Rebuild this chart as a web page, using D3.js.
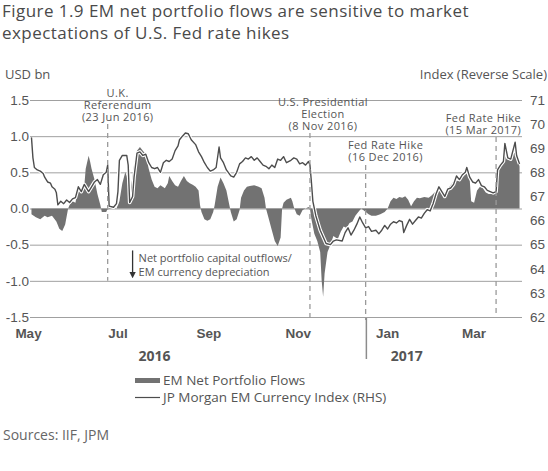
<!DOCTYPE html>
<html>
<head>
<meta charset="utf-8">
<script src="https://cdn.jsdelivr.net/npm/d3@7"></script>
<style>
  body { margin: 0; background: #fff; }
  svg { font-family: "Open Sans", sans-serif; }
</style>
</head>
<body>
<script>
// EM net portfolio flows vs JP Morgan EM currency index

// EM net portfolio flows, USD bn (left axis)
var flowDates = ["2016-05-02","2016-05-05","2016-05-08","2016-05-11","2016-05-13","2016-05-16","2016-05-19","2016-05-21","2016-05-23","2016-05-25",
  "2016-05-27","2016-05-28","2016-05-30","2016-06-01","2016-06-03","2016-06-05","2016-06-07","2016-06-08","2016-06-10","2016-06-11",
  "2016-06-12","2016-06-14","2016-06-16","2016-06-18","2016-06-19","2016-06-22","2016-06-23","2016-06-26","2016-06-29","2016-07-01",
  "2016-07-03","2016-07-05","2016-07-06","2016-07-08","2016-07-09","2016-07-11","2016-07-13","2016-07-15","2016-07-17","2016-07-19",
  "2016-07-21","2016-07-23","2016-07-25","2016-07-27","2016-07-29","2016-08-01","2016-08-03","2016-08-04","2016-08-06","2016-08-08",
  "2016-08-10","2016-08-12","2016-08-14","2016-08-16","2016-08-18","2016-08-20","2016-08-22","2016-08-24","2016-08-25","2016-08-26",
  "2016-08-28","2016-08-30","2016-09-01","2016-09-03","2016-09-04","2016-09-06","2016-09-08","2016-09-10","2016-09-12","2016-09-14",
  "2016-09-15","2016-09-17","2016-09-19","2016-09-21","2016-09-22","2016-09-24","2016-09-26","2016-09-28","2016-10-01","2016-10-04",
  "2016-10-06","2016-10-08","2016-10-09","2016-10-11","2016-10-13","2016-10-15","2016-10-17","2016-10-19","2016-10-20","2016-10-21",
  "2016-10-23","2016-10-26","2016-10-27","2016-10-28","2016-10-30","2016-11-01","2016-11-03","2016-11-05","2016-11-07","2016-11-08",
  "2016-11-09","2016-11-11","2016-11-13","2016-11-15","2016-11-16","2016-11-17","2016-11-18","2016-11-20","2016-11-22","2016-11-24",
  "2016-11-27","2016-11-29","2016-12-01","2016-12-03","2016-12-05","2016-12-07","2016-12-09","2016-12-11","2016-12-13","2016-12-15",
  "2016-12-18","2016-12-20","2016-12-23","2016-12-26","2016-12-29","2016-12-31","2017-01-02","2017-01-04","2017-01-06","2017-01-08",
  "2017-01-10","2017-01-12","2017-01-14","2017-01-16","2017-01-18","2017-01-20","2017-01-22","2017-01-25","2017-01-28","2017-01-30",
  "2017-02-01","2017-02-03","2017-02-05","2017-02-07","2017-02-09","2017-02-11","2017-02-13","2017-02-15","2017-02-17","2017-02-19",
  "2017-02-21","2017-02-23","2017-02-25","2017-02-26","2017-02-28","2017-03-02","2017-03-04","2017-03-06","2017-03-08","2017-03-10",
  "2017-03-12","2017-03-14","2017-03-15","2017-03-16","2017-03-18","2017-03-20","2017-03-21","2017-03-23","2017-03-25","2017-03-26",
  "2017-03-28","2017-03-29","2017-03-31"];
var flowValues = [-0.08,-0.12,-0.15,-0.10,-0.12,-0.10,-0.18,-0.28,-0.31,-0.22,
  0.0,0.05,0.10,0.08,0.30,0.22,0.30,0.55,0.73,0.65,
  0.55,0.40,0.20,0.05,-0.05,-0.05,0.0,0.02,0.0,0.10,
  0.35,0.50,0.45,0.15,0.30,0.60,0.80,0.85,0.80,0.75,
  0.55,0.40,0.30,0.28,0.32,0.28,0.35,0.45,0.38,0.32,
  0.30,0.38,0.45,0.38,0.35,0.33,0.30,0.25,0.05,-0.05,
  -0.15,-0.17,-0.15,-0.05,0.05,0.30,0.43,0.35,0.25,0.05,
  -0.05,-0.18,-0.15,-0.02,0.15,0.25,0.30,0.31,0.32,0.30,
  0.28,0.15,0.0,-0.15,-0.30,-0.45,-0.52,-0.40,0.0,0.08,
  0.12,0.15,0.10,0.02,-0.08,-0.10,-0.02,0.0,0.02,0.0,
  -0.15,-0.35,-0.45,-0.60,-1.00,-1.22,-0.90,-0.60,-0.50,-0.38,
  -0.42,-0.32,-0.25,-0.27,-0.20,-0.18,-0.10,-0.05,0.0,-0.03,
  -0.08,-0.10,-0.10,-0.08,-0.05,0.0,0.10,0.15,0.13,0.16,
  0.15,0.17,0.12,0.03,0.10,0.15,0.14,0.16,0.15,0.18,
  0.22,0.25,0.30,0.20,0.25,0.30,0.35,0.40,0.38,0.42,
  0.45,0.55,0.40,0.10,0.08,0.25,0.30,0.28,0.22,0.20,
  0.20,0.20,0.22,0.55,0.62,0.65,0.88,0.72,0.68,0.70,
  0.90,0.75,0.58];

// JP Morgan EM currency index (right axis)
var fxDates = ["2016-05-02","2016-05-03","2016-05-04","2016-05-06","2016-05-08","2016-05-10","2016-05-11","2016-05-13","2016-05-15","2016-05-16",
  "2016-05-18","2016-05-19","2016-05-20","2016-05-22","2016-05-24","2016-05-26","2016-05-28","2016-05-30","2016-06-01","2016-06-03",
  "2016-06-05","2016-06-07","2016-06-10","2016-06-12","2016-06-14","2016-06-16","2016-06-18","2016-06-20","2016-06-22","2016-06-23",
  "2016-06-24","2016-06-27","2016-06-29","2016-06-30","2016-07-01","2016-07-03","2016-07-06","2016-07-07","2016-07-08","2016-07-10",
  "2016-07-11","2016-07-13","2016-07-15","2016-07-17","2016-07-19","2016-07-21","2016-07-23","2016-07-25","2016-07-27","2016-07-29",
  "2016-07-31","2016-08-02","2016-08-04","2016-08-06","2016-08-08","2016-08-10","2016-08-11","2016-08-13","2016-08-15","2016-08-17",
  "2016-08-19","2016-08-22","2016-08-24","2016-08-26","2016-08-28","2016-08-30","2016-09-01","2016-09-03","2016-09-05","2016-09-07",
  "2016-09-08","2016-09-10","2016-09-12","2016-09-15","2016-09-17","2016-09-19","2016-09-21","2016-09-23","2016-09-25","2016-09-27",
  "2016-09-29","2016-10-01","2016-10-03","2016-10-05","2016-10-07","2016-10-09","2016-10-11","2016-10-13","2016-10-15","2016-10-17",
  "2016-10-19","2016-10-21","2016-10-23","2016-10-26","2016-10-28","2016-10-30","2016-11-01","2016-11-03","2016-11-05","2016-11-07",
  "2016-11-08","2016-11-09","2016-11-10","2016-11-12","2016-11-15","2016-11-19","2016-11-22","2016-11-24","2016-11-26","2016-11-30",
  "2016-12-02","2016-12-04","2016-12-06","2016-12-08","2016-12-10","2016-12-12","2016-12-14","2016-12-16","2016-12-18","2016-12-20",
  "2016-12-23","2016-12-25","2016-12-27","2016-12-29","2016-12-31","2017-01-02","2017-01-04","2017-01-06","2017-01-08","2017-01-10",
  "2017-01-11","2017-01-13","2017-01-15","2017-01-17","2017-01-19","2017-01-21","2017-01-23","2017-01-25","2017-01-27","2017-01-29",
  "2017-01-31","2017-02-02","2017-02-04","2017-02-06","2017-02-08","2017-02-10","2017-02-12","2017-02-14","2017-02-16","2017-02-18",
  "2017-02-20","2017-02-22","2017-02-23","2017-02-25","2017-02-27","2017-03-01","2017-03-03","2017-03-05","2017-03-07","2017-03-09",
  "2017-03-11","2017-03-13","2017-03-15","2017-03-16","2017-03-18","2017-03-20","2017-03-21","2017-03-23","2017-03-25","2017-03-28",
  "2017-03-29","2017-03-31"];
var fxValues = [69.45,68.6,68.2,68.1,68.05,67.95,67.8,67.6,67.55,67.4,
  67.3,67.15,66.65,66.8,66.7,66.85,66.75,66.9,66.95,67.4,
  67.2,67.5,67.2,67.4,67.6,67.7,67.5,67.9,68.0,68.3,
  66.6,66.55,66.7,67.2,68.5,68.7,68.7,68.3,66.75,67.0,
  67.8,68.8,68.85,68.7,68.75,68.4,68.2,68.15,68.2,68.0,
  68.4,68.5,68.45,68.55,68.9,69.1,69.35,69.5,69.63,69.6,
  69.35,69.15,68.85,68.65,68.4,68.2,68.05,68.1,68.2,69.05,
  68.6,68.4,68.1,67.85,67.8,68.0,68.35,68.45,68.6,68.55,
  68.65,68.5,68.6,68.45,68.3,68.25,68.15,68.3,68.2,68.55,
  68.5,68.65,68.4,68.5,68.6,68.55,68.35,68.4,68.3,68.45,
  68.3,67.6,66.8,66.2,65.6,65.05,65.0,65.15,65.2,65.15,
  65.5,65.7,65.4,65.6,65.85,66.15,65.9,65.7,65.75,65.55,
  65.6,65.45,65.6,65.8,65.65,65.85,65.95,65.9,66.0,65.95,
  65.5,65.8,66.05,65.85,66.0,66.15,66.1,66.3,66.45,66.4,
  66.7,67.1,67.4,67.2,67.0,67.3,67.35,67.5,67.85,67.7,
  67.9,68.0,68.2,67.8,67.6,67.55,67.7,67.45,67.4,67.25,
  67.2,67.15,67.2,68.1,68.3,68.45,69.2,68.6,68.55,69.25,
  68.7,68.35];

// axis ticks
var leftTicks = [-1.5, -1.0, -0.5, 0.0, 0.5, 1.0, 1.5];
var rightTicks = [62, 63, 64, 65, 66, 67, 68, 69, 70, 71];
var monthTicks = ["2016-05-01","2016-07-01","2016-09-01","2016-11-01","2017-01-01","2017-03-01"];
var monthLabels = ["May","Jul","Sep","Nov","Jan","Mar"];
var yearLabels = ["2016","2017"];
var yearDates = ["2016-07-25","2017-01-13"];

// events
var eventDates = ["2016-06-23","2016-11-08","2016-12-16","2017-03-15"];
var eventLabels = [["U.K.","Referendum","(23 Jun 2016)"],
  ["U.S. Presidential","Election","(8 Nov 2016)"],
  ["Fed Rate Hike","(16 Dec 2016)"],
  ["Fed Rate Hike","(15 Mar 2017)"]];

var svgWidth = 548;
var svgHeight = 471;
var parseDate = d3.timeParse("%Y-%m-%d");
var textColor = "#555";

var svg = d3.select("body")
  .append("svg")
  .attr("width", svgWidth)
  .attr("height", svgHeight);

// scales
var xScale = d3.scaleTime()
  .domain([parseDate("2016-05-01"), parseDate("2017-04-01")])
  .range([30, 521]);
var yLeft = d3.scaleLinear().domain([-1.5, 1.5]).range([317, 100]);
var yRight = d3.scaleLinear().domain([62, 71]).range([317, 100]);

var flows = flowDates.map((d, i) => ({ date: parseDate(d), value: flowValues[i] }));
var fx = fxDates.map((d, i) => ({ date: parseDate(d), value: fxValues[i] }));

// title, two lines
svg.append("text").attr("x", 2).attr("y", 17)
  .attr("fill", "#4a4a4a")
  .style("font-size", "17px").style("letter-spacing", "0.45px")
  .text("Figure 1.9 EM net portfolio flows are sensitive to market");
svg.append("text").attr("x", 2).attr("y", 39)
  .attr("fill", "#4a4a4a")
  .style("font-size", "17px").style("letter-spacing", "0.45px")
  .text("expectations of U.S. Fed rate hikes");

svg.append("text").attr("x", 5).attr("y", 79)
  .attr("fill", textColor).style("font-size", "13px").text("USD bn");
svg.append("text").attr("x", 547).attr("y", 79).attr("text-anchor", "end")
  .attr("fill", textColor).style("font-size", "13px").text("Index (Reverse Scale)");

// left axis with gridlines
var leftAxis = d3.axisLeft(yLeft)
  .tickValues(leftTicks)
  .tickSize(-492)
  .tickPadding(1)
  .tickFormat(d => d.toFixed(1));
var gLeft = svg.append("g")
  .attr("transform", "translate(30,0)")
  .call(leftAxis);
gLeft.select(".domain").remove();
gLeft.selectAll("line").attr("stroke", "#a0a0a0");
gLeft.selectAll("text").attr("fill", textColor).style("font-size", "13.5px");

// right axis
var rightAxis = d3.axisRight(yRight)
  .tickValues(rightTicks)
  .tickSize(0)
  .tickPadding(8);
var gRight = svg.append("g")
  .attr("transform", "translate(522,0)")
  .call(rightAxis);
gRight.select(".domain").remove();
gRight.selectAll("text").attr("fill", textColor).style("font-size", "13.5px");

// area for flows
var area = d3.area()
  .x(d => xScale(d.date))
  .y0(yLeft(0))
  .y1(d => yLeft(d.value));
svg.append("path")
  .datum(flows)
  .attr("d", area)
  .attr("fill", "#727272");

// currency index line with white halo
var line = d3.line()
  .x(d => xScale(d.date))
  .y(d => yRight(d.value));
svg.append("path")
  .datum(fx)
  .attr("d", line)
  .attr("fill", "none")
  .attr("stroke", "#fff")
  .attr("stroke-width", 3.6)
  .attr("stroke-linejoin", "round");
svg.append("path")
  .datum(fx)
  .attr("d", line)
  .attr("fill", "none")
  .attr("stroke", "#4d4d4d")
  .attr("stroke-width", 1.4)
  .attr("stroke-linejoin", "round");

// event lines and labels
var eventLayout = [
  { top: 124, bottom: yLeft(-1.0), dx: 10, anchor: "middle", y: 93 },
  { top: 133, bottom: 320, dx: 13, anchor: "middle", y: 102 },
  { top: 165, bottom: 320, dx: 20, anchor: "middle", y: 145 },
  { top: 137, bottom: 316, dx: 25, anchor: "end", y: 118 }
];
eventDates.forEach(function (d, i) {
  var ex = xScale(parseDate(d));
  var lay = eventLayout[i];
  svg.append("line")
    .attr("x1", ex).attr("x2", ex)
    .attr("y1", lay.top).attr("y2", lay.bottom)
    .attr("stroke", "#9a9a9a")
    .attr("stroke-width", 1.3)
    .attr("stroke-dasharray", "5,4");
  var t = svg.append("text")
    .attr("text-anchor", lay.anchor)
    .attr("fill", textColor)
    .style("font-size", "11px")
    .style("letter-spacing", "0.4px");
  eventLabels[i].forEach(function (s, j) {
    t.append("tspan")
      .attr("x", ex + lay.dx)
      .attr("y", lay.y + 4 + j * 12)
      .text(s);
  });
});

// outflow note with arrow
svg.append("defs").append("marker")
  .attr("id", "arrow")
  .attr("viewBox", "0 0 10 10")
  .attr("refX", 5).attr("refY", 5)
  .attr("markerWidth", 5).attr("markerHeight", 5)
  .attr("orient", "auto")
  .append("path").attr("d", "M0,0L10,5L0,10z").attr("fill", "#333");
var noteX = xScale(parseDate("2016-07-10"));
svg.append("line")
  .attr("x1", noteX).attr("x2", noteX)
  .attr("y1", yLeft(-0.58)).attr("y2", yLeft(-0.92))
  .attr("stroke", "#333").attr("stroke-width", 1.3)
  .attr("marker-end", "url(#arrow)");
var note = svg.append("text").attr("fill", textColor).style("font-size", "11px");
note.append("tspan").attr("x", noteX + 6).attr("y", 262).text("Net portfolio capital outflows/");
note.append("tspan").attr("x", noteX + 6).attr("y", 276).text("EM currency depreciation");

// month axis
var bottomAxis = d3.axisBottom(xScale)
  .tickValues(monthTicks.map(parseDate))
  .tickSize(0)
  .tickPadding(0)
  .tickFormat((d, i) => monthLabels[i]);
var gBottom = svg.append("g")
  .attr("transform", "translate(-2,328)")
  .call(bottomAxis);
gBottom.select(".domain").remove();
gBottom.selectAll("text")
  .attr("fill", textColor)
  .style("font-size", "13.5px")
  .style("font-weight", "bold");

// year labels and separator
var decX = xScale(parseDate("2016-12-01"));
var janX = xScale(parseDate("2017-01-01"));
var sepX = (decX + janX) / 2;
svg.append("line")
  .attr("x1", sepX).attr("x2", sepX)
  .attr("y1", 318).attr("y2", 359)
  .attr("stroke", "#8c8c8c").attr("stroke-width", 1.5);
yearLabels.forEach(function (s, i) {
  svg.append("text")
    .attr("x", xScale(parseDate(yearDates[i]))).attr("y", 361)
    .attr("text-anchor", "middle")
    .attr("fill", textColor)
    .style("font-size", "14px")
    .style("font-weight", "bold")
    .text(s);
});

// legend
var legend = svg.append("g").attr("transform", "translate(135,0)");
legend.append("rect").attr("x", 0).attr("y", 378).attr("width", 25).attr("height", 5).attr("fill", "#727272");
legend.append("text").attr("x", 28).attr("y", 385).attr("fill", textColor)
  .style("font-size", "13.5px").text("EM Net Portfolio Flows");
legend.append("line").attr("x1", 0).attr("x2", 25).attr("y1", 397.5).attr("y2", 397.5)
  .attr("stroke", "#4d4d4d").attr("stroke-width", 1.2);
legend.append("text").attr("x", 28).attr("y", 402).attr("fill", textColor)
  .style("font-size", "13.5px").text("JP Morgan EM Currency Index (RHS)");

// source
svg.append("text").attr("x", 3).attr("y", 440)
  .attr("fill", "#666").style("font-size", "14px").text("Sources: IIF, JPM");
</script>
</body>
</html>
